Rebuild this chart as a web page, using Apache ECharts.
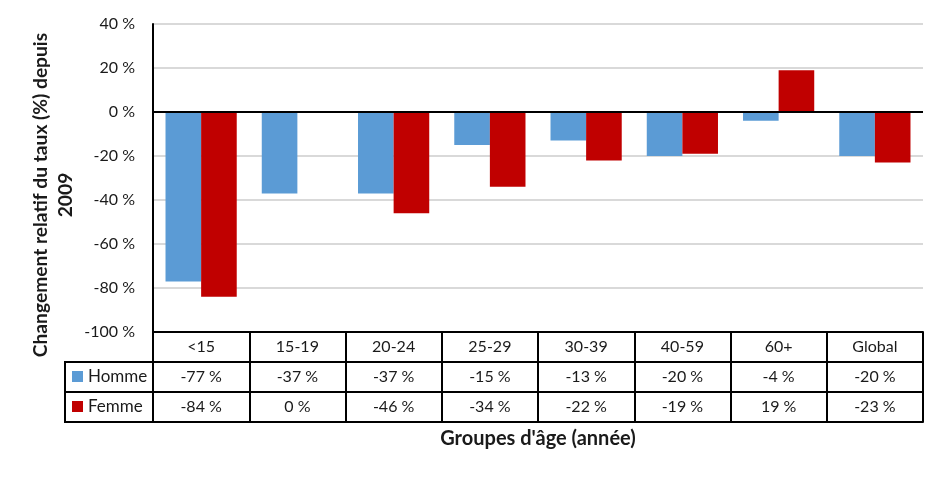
<!DOCTYPE html>
<html>
<head>
<meta charset="utf-8">
<script src="https://cdn.jsdelivr.net/npm/echarts@6/dist/echarts.min.js"></script>
<style>html,body{margin:0;padding:0;background:#fff}#c{width:946px;height:477px}</style>
</head>
<body>
<div id="c"></div>
<script>
const categories = ['<15', '15-19', '20-24', '25-29', '30-39', '40-59', '60+', 'Global'];
const homme = [-77, -37, -37, -15, -13, -20, -4, -20];
const femme = [-84, -0.49, -46, -34, -22, -19, 19, -23];
const yTicks = { min: -100, max: 40, interval: 20 };

const fmt = v => `${Math.round(v)} %`;
const FONT = 'Lato';
const TXT = '#1a1a1a';
const chart = echarts.init(document.getElementById('c'));

const tableAxis = (data, offset, extra) => Object.assign({
  type: 'category', gridIndex: 0, position: 'bottom', offset: offset, data: data,
  axisLine: { show: true, onZero: false, lineStyle: { color: '#000', width: 2 } },
  axisTick: { show: false },
  axisLabel: { show: true, interval: 0, margin: 7, fontFamily: FONT, fontSize: 16, color: TXT },
  splitLine: { show: false }
}, extra || {});

chart.setOption({
  animation: false,
  grid: { left: 153, right: 23, top: 24, bottom: 145, containLabel: false },
  legend: [
    { data: ['Homme'], left: 72, top: 368, padding: 0, icon: 'rect', itemWidth: 11, itemHeight: 11, itemGap: 5,
      textStyle: { fontFamily: FONT, fontSize: 17, color: TXT }, selectedMode: false },
    { data: ['Femme'], left: 72, top: 398, padding: 0, icon: 'rect', itemWidth: 11, itemHeight: 11, itemGap: 5,
      textStyle: { fontFamily: FONT, fontSize: 17, color: TXT }, selectedMode: false }
  ],
  xAxis: [
    tableAxis(categories, 0, {
      axisTick: { show: true, interval: 0, length: 90, lineStyle: { color: '#000', width: 2 } }
    }),
    tableAxis(homme.map(fmt), 30),
    tableAxis(femme.map(fmt), 60),
    tableAxis(categories, 90, {
      axisLabel: { show: false },
      name: "Groupes d'âge (année)", nameLocation: 'middle', nameGap: 7,
      nameTextStyle: { fontFamily: FONT, fontSize: 20, fontWeight: 'bold', color: TXT }
    })
  ],
  yAxis: {
    type: 'value', min: yTicks.min, max: yTicks.max, interval: yTicks.interval,
    axisLine: { show: true, lineStyle: { color: '#000', width: 2 } },
    axisTick: { show: false },
    axisLabel: { formatter: '{value} %', margin: 18, fontFamily: FONT, fontSize: 16, color: TXT },
    splitLine: { show: true, lineStyle: { color: '#d9d9d9', width: 2 } }
  },
  series: [
    { name: 'Homme', type: 'bar', data: homme, barWidth: '37%', barGap: '0%', itemStyle: { color: '#5b9bd5' },
      markLine: { silent: true, symbol: 'none', label: { show: false }, data: [{ yAxis: 0 }],
        lineStyle: { color: '#000', width: 2, type: 'solid' } } },
    { name: 'Femme', type: 'bar', data: femme, barWidth: '37%', barGap: '0%', itemStyle: { color: '#c00000' } }
  ],
  graphic: [
    { type: 'rect', shape: { x: 65, y: 362, width: 88, height: 60 }, style: { fill: 'none', stroke: '#000', lineWidth: 2 }, z: 10 },
    { type: 'line', shape: { x1: 65, y1: 392, x2: 153, y2: 392 }, style: { stroke: '#000', lineWidth: 2 }, z: 10 },
    { type: 'text', x: 53, y: 195, rotation: Math.PI / 2,
      style: { text: 'Changement relatif du taux (%) depuis\n2009', align: 'center', verticalAlign: 'middle',
        font: 'bold 19.2px Lato', lineHeight: 25, fill: TXT } }
  ]
});
</script>
</body>
</html>
